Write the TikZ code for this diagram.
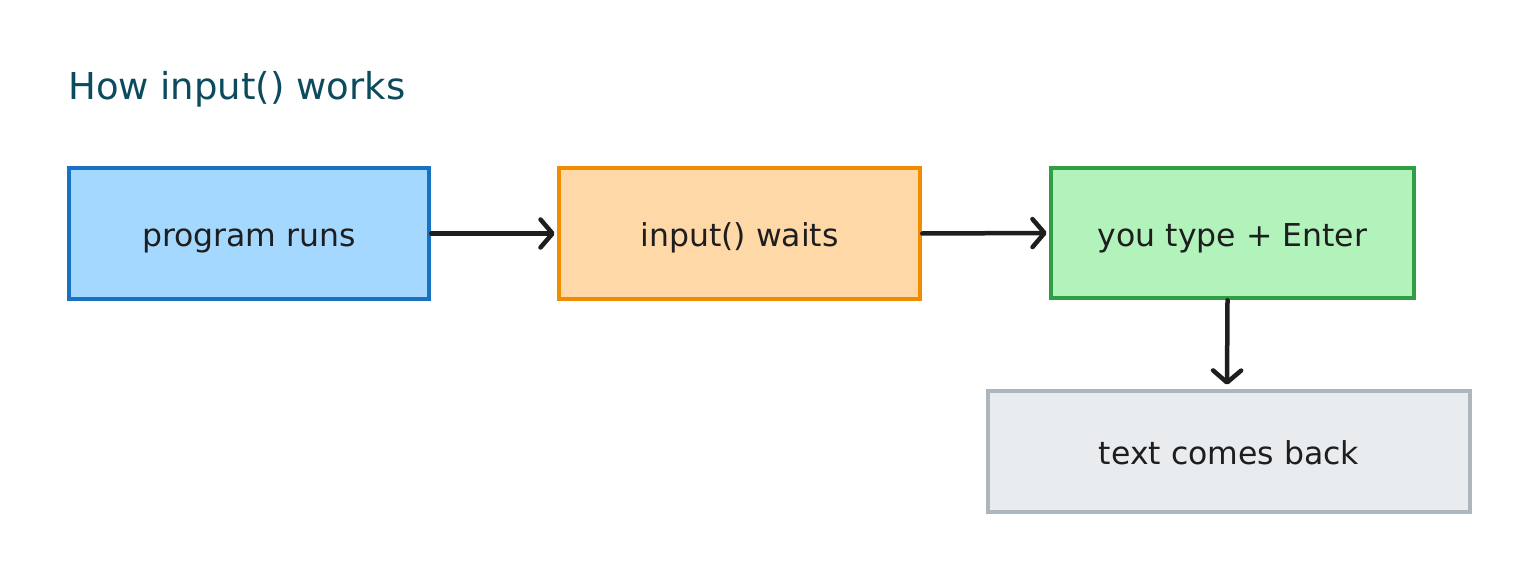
\documentclass[tikz,border=0pt]{standalone}
\usepackage{fontspec}
\setmainfont{DejaVu Sans}
\usetikzlibrary{arrows.meta}
\definecolor{ink}{HTML}{1E1E1E}
\definecolor{titlecol}{HTML}{0C4A5E}
\definecolor{bluefill}{HTML}{A5D8FF}\definecolor{bluedraw}{HTML}{1971C2}
\definecolor{orangefill}{HTML}{FFD8A8}\definecolor{orangedraw}{HTML}{F08C00}
\definecolor{greenfill}{HTML}{B2F2BB}\definecolor{greendraw}{HTML}{2F9E44}
\definecolor{greyfill}{HTML}{E9ECEF}\definecolor{greydraw}{HTML}{ADB5BD}
\tikzset{
  stagebox/.style={rectangle, line width=4.5pt, text=ink, inner sep=0pt,
    text height=28pt, text depth=2pt,
    font=\fontsize{31.5}{36}\selectfont},
  flow/.style={draw=ink, line width=4.5pt, line cap=round,
    -{Straight Barb[length=12pt,width=28pt,line cap=round,line join=round]}},
}
\begin{document}
\begin{tikzpicture}[x=1pt,y=-1pt]
\useasboundingbox (0,0) rectangle (1536,580);
\node[anchor=base west, text=titlecol, inner sep=0pt, font=\fontsize{37}{42}\selectfont] (title) at (68,100) {How input() works};
\node[stagebox, fill=bluefill, draw=bluedraw, minimum width=360pt, minimum height=131pt] (run) at (249,233.5) {program runs};
\node[stagebox, fill=orangefill, draw=orangedraw, minimum width=361pt, minimum height=131pt] (wait) at (739.5,233.5) {input() waits};
\node[stagebox, fill=greenfill, draw=greendraw, minimum width=363pt, minimum height=130pt] (type) at (1232.5,233) {you type + Enter};
\node[stagebox, fill=greyfill, draw=greydraw, minimum width=482pt, minimum height=121pt] (back) at (1229,451.5) {text comes back};
\draw[flow] (run.east) -- ([xshift=-2pt]wait.west);
\draw[flow] (wait.east) -- ([xshift=-2pt]type.west);
\draw[flow] ([xshift=-5pt]type.south) -- ([xshift=-2pt,yshift=4pt]back.north);
\end{tikzpicture}
\end{document}
